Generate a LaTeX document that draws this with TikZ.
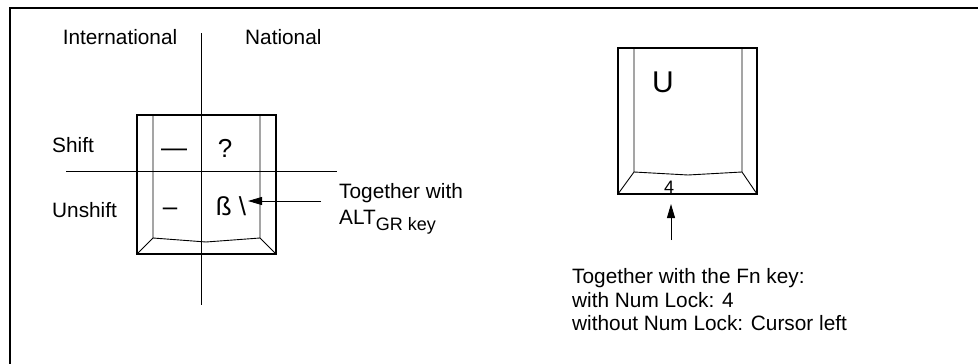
\documentclass[tikz,border=0pt]{standalone}
\usepackage{fontspec}
\setmainfont{Liberation Sans}
\usetikzlibrary{arrows.meta}
\begin{document}
\begin{tikzpicture}[x=1pt,y=-1pt,
  txt/.style={inner sep=0pt, anchor=base west, font=\fontsize{20.8}{24}\selectfont},
  ctxt/.style={txt, anchor=base},
  keyleg/.style={inner sep=0pt, anchor=base, font=\fontsize{26}{30}\selectfont},
  keybox/.style={draw, line width=1.8pt, inner sep=0pt, outer sep=0pt},
  thinline/.style={line width=0.9pt},
  arr/.style={line width=0.9pt, -{Triangle[length=14pt,width=8pt]}}]
\useasboundingbox (0,0) rectangle (978,364);
\draw[line width=2pt] (10,364) -- (10,8) -- (978,8);

% ---------- left key ----------
\draw[thinline] (153,115) -- (153,238) -- (206,242) -- (260,238) -- (260,115);
\draw[thinline] (137,254) -- (153,238);
\draw[thinline] (276,254) -- (260,238);
\node[keybox, minimum width=139pt, minimum height=139pt] (lkey) at (206.5,184.5) {};
\draw[thinline] (201,33) -- (201,305);
\draw[thinline] (66,171) -- (337,171);

\node[ctxt] (intl) at (120,45) {International};
\node[txt] (natl) at (245,45) {National};
\node[txt] (shift) at (52,152) {Shift};
\node[txt] (unshift) at (52,217) {Unshift};
\node[keyleg] (emd) at (174,156) {—};
\node[keyleg] (qm) at (225,157) {?};
\node[keyleg] (end) at (170,215) {–};
\node[keyleg] (sz) at (231,215) {ß \textbackslash};
\node[txt] (tw1) at (339,198) {Together with};
\node[txt] (tw2) at (339,224) {ALT\raisebox{-6pt}{\fontsize{18}{20}\selectfont GR key}};
\coordinate (lstart) at (321,201);
\coordinate (ltip) at (248,201);
\draw[arr] (lstart) -- (ltip);

% ---------- right key ----------
\draw[thinline] (634,48) -- (634,172) -- (688,175) -- (742,172) -- (742,48);
\draw[thinline] (618,194) -- (634,172);
\draw[thinline] (757,194) -- (742,172);
\node[keybox, minimum width=139pt, minimum height=146pt] (rkey) at (687.5,121) {};
\node[inner sep=0pt, anchor=base, font=\fontsize{30}{34}\selectfont] (u) at (663,92) {U};
\node[inner sep=0pt, anchor=base, font=\fontsize{18}{20}\selectfont] (four) at (669,193) {4};
\coordinate (rstart) at (671,240);
\coordinate (rtip) at (671,204);
\draw[arr] (rstart) -- (rtip);
\node[txt] (fn1) at (572,283) {Together with the Fn key:};
\node[txt] (fn2) at (572,307) {with Num Lock: 4};
\node[txt] (fn3) at (572,330) {without Num Lock: Cursor left};
\end{tikzpicture}
\end{document}
